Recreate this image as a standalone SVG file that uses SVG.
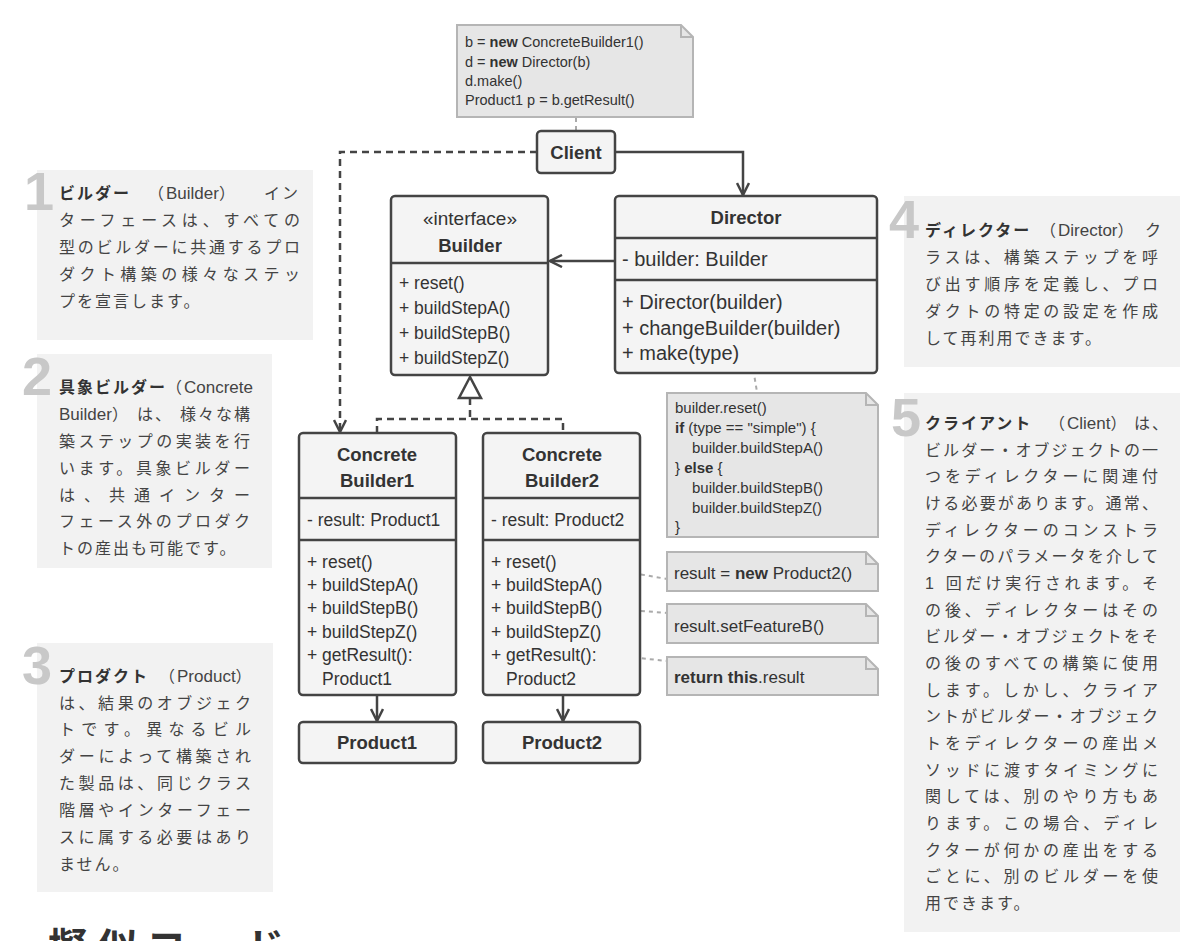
<svg xmlns="http://www.w3.org/2000/svg" width="1200" height="941" viewBox="0 0 1200 941">
<style>
.box{fill:#f4f4f4;stroke:#444;stroke-width:2.5}
.div{stroke:#444;stroke-width:2.5;fill:none}
.t{font-family:"Liberation Sans",Arial,sans-serif;fill:#333}
.b{font-weight:bold}
.m{font-size:17.5px}
.md{font-size:20px}
.h{font-size:18.5px;font-weight:bold;text-anchor:middle}
.note{fill:#e6e6e6;stroke:#b5b5b5;stroke-width:2}
.fold{fill:none;stroke:#b5b5b5;stroke-width:2}
.code{font-family:"Liberation Sans",Arial,sans-serif;fill:#333}
.bg{fill:#f2f2f2}
.jp{font-family:"Liberation Sans","Noto Sans CJK JP",sans-serif;font-size:16px;fill:#444;letter-spacing:2px}
.jb{font-weight:bold;fill:#333}
.lat{font-size:17px;letter-spacing:0}
.num{font-family:"Liberation Sans",Arial,sans-serif;font-size:54px;font-weight:bold;fill:#c8c8c8}
.ln{fill:none;stroke:#444;stroke-width:2.5}
.dash{stroke-dasharray:7 5}
.dot{fill:none;stroke:#aaa;stroke-width:2;stroke-dasharray:4 4}
.pin{fill:none;stroke:#aaa;stroke-width:2}
.head{font-family:"Noto Sans CJK JP",sans-serif;font-size:40px;font-weight:bold;fill:#333;letter-spacing:9px}
</style>
<defs>
<marker id="open" viewBox="0 0 14 14" refX="13" refY="7" markerWidth="14" markerHeight="14" markerUnits="userSpaceOnUse" orient="auto">
<path d="M1,1 L13,7 L1,13" fill="none" stroke="#444" stroke-width="2.5"/>
</marker>
</defs>

<g id="note1">
<rect class="bg" x="37" y="170" width="276" height="170"/>
<text class="num" x="24" y="210">1</text>
<text class="jp" y="199"><tspan class="jb" x="59">ビルダー</tspan><tspan x="148">（</tspan><tspan class="lat">Builder</tspan><tspan>）</tspan><tspan x="264">イン</tspan></text>
<text class="jp" x="59" y="226" textLength="243" lengthAdjust="spacing">ターフェースは、すべての</text>
<text class="jp" x="59" y="253" textLength="243" lengthAdjust="spacing">型のビルダーに共通するプロ</text>
<text class="jp" x="59" y="280" textLength="243" lengthAdjust="spacing">ダクト構築の様々なステッ</text>
<text class="jp" x="59" y="307">プを宣言します。</text>
</g>

<g id="note2">
<rect class="bg" x="37" y="354" width="235" height="214"/>
<text class="num" x="22" y="395">2</text>
<text class="jp" y="393"><tspan class="jb" x="59">具象ビルダー</tspan><tspan x="166">（</tspan><tspan class="lat">Concrete</tspan></text>
<text class="jp" y="420"><tspan class="lat" x="59">Builder</tspan><tspan>）</tspan><tspan x="137">は、</tspan><tspan x="180">様々な構</tspan></text>
<text class="jp" x="59" y="447" textLength="193" lengthAdjust="spacing">築ステップの実装を行</text>
<text class="jp" x="59" y="474" textLength="193" lengthAdjust="spacing">います。具象ビルダー</text>
<text class="jp" x="59" y="501" textLength="193" lengthAdjust="spacing">は、共通インター</text>
<text class="jp" x="59" y="527" textLength="193" lengthAdjust="spacing">フェース外のプロダク</text>
<text class="jp" x="59" y="554">トの産出も可能です。</text>
</g>

<g id="note3">
<rect class="bg" x="37" y="643" width="236" height="249"/>
<text class="num" x="22" y="684">3</text>
<text class="jp" y="682"><tspan class="jb" x="59">プロダクト</tspan><tspan x="159">（</tspan><tspan class="lat">Product</tspan><tspan>）</tspan></text>
<text class="jp" x="59" y="709" textLength="194" lengthAdjust="spacing">は、結果のオブジェク</text>
<text class="jp" x="59" y="735" textLength="194" lengthAdjust="spacing">トです。異なるビル</text>
<text class="jp" x="59" y="762" textLength="194" lengthAdjust="spacing">ダーによって構築され</text>
<text class="jp" x="59" y="789" textLength="194" lengthAdjust="spacing">た製品は、同じクラス</text>
<text class="jp" x="59" y="816" textLength="194" lengthAdjust="spacing">階層やインターフェー</text>
<text class="jp" x="59" y="843" textLength="194" lengthAdjust="spacing">スに属する必要はあり</text>
<text class="jp" x="59" y="870">ません。</text>
</g>

<g id="note4">
<rect class="bg" x="904" y="196" width="276" height="171"/>
<text class="num" x="889" y="238">4</text>
<text class="jp" y="236"><tspan class="jb" x="925">ディレクター</tspan><tspan x="1040">（</tspan><tspan class="lat">Director</tspan><tspan>）</tspan><tspan x="1145">ク</tspan></text>
<text class="jp" x="925" y="263" textLength="235" lengthAdjust="spacing">ラスは、構築ステップを呼</text>
<text class="jp" x="925" y="290" textLength="235" lengthAdjust="spacing">び出す順序を定義し、プロ</text>
<text class="jp" x="925" y="317" textLength="235" lengthAdjust="spacing">ダクトの特定の設定を作成</text>
<text class="jp" x="925" y="344">して再利用できます。</text>
</g>

<g id="note5">
<rect class="bg" x="904" y="393" width="276" height="539"/>
<text class="num" x="891" y="436">5</text>
<text class="jp" y="429"><tspan class="jb" x="925">クライアント</tspan><tspan x="1049">（</tspan><tspan class="lat">Client</tspan><tspan>）</tspan><tspan x="1134">は、</tspan></text>
<text class="jp" x="925" y="456" textLength="235" lengthAdjust="spacing">ビルダー・オブジェクトの一</text>
<text class="jp" x="925" y="482" textLength="235" lengthAdjust="spacing">つをディレクターに関連付</text>
<text class="jp" x="925" y="509" textLength="235" lengthAdjust="spacing">ける必要があります。通常、</text>
<text class="jp" x="925" y="536" textLength="235" lengthAdjust="spacing">ディレクターのコンストラ</text>
<text class="jp" x="925" y="562" textLength="235" lengthAdjust="spacing">クターのパラメータを介して</text>
<text class="jp" x="925" y="589" textLength="235" lengthAdjust="spacing">1 回だけ実行されます。そ</text>
<text class="jp" x="925" y="616" textLength="235" lengthAdjust="spacing">の後、ディレクターはその</text>
<text class="jp" x="925" y="642" textLength="235" lengthAdjust="spacing">ビルダー・オブジェクトをそ</text>
<text class="jp" x="925" y="669" textLength="235" lengthAdjust="spacing">の後のすべての構築に使用</text>
<text class="jp" x="925" y="696" textLength="235" lengthAdjust="spacing">します。しかし、クライア</text>
<text class="jp" x="925" y="722" textLength="235" lengthAdjust="spacing">ントがビルダー・オブジェク</text>
<text class="jp" x="925" y="749" textLength="235" lengthAdjust="spacing">トをディレクターの産出メ</text>
<text class="jp" x="925" y="776" textLength="235" lengthAdjust="spacing">ソッドに渡すタイミングに</text>
<text class="jp" x="925" y="802" textLength="235" lengthAdjust="spacing">関しては、別のやり方もあ</text>
<text class="jp" x="925" y="829" textLength="235" lengthAdjust="spacing">ります。この場合、ディレ</text>
<text class="jp" x="925" y="856" textLength="235" lengthAdjust="spacing">クターが何かの産出をする</text>
<text class="jp" x="925" y="882" textLength="235" lengthAdjust="spacing">ごとに、別のビルダーを使</text>
<text class="jp" x="925" y="909">用できます。</text>
</g>

<g id="heading">
<text class="head" x="48" y="962">擬似コード</text>
</g>

<g id="connectors">
<path class="ln" d="M615,152 H743 V195" marker-end="url(#open)"/>
<path class="ln" d="M615,261 H550" marker-end="url(#open)"/>
<path class="ln dash" d="M537,152 H340 V432" marker-end="url(#open)"/>
<path class="ln dash" d="M470,398 V419 M377,433 V419 H563 V433"/>
<polygon points="470,377 459,398 481,398" fill="#fff" stroke="#444" stroke-width="2.5"/>
<path class="ln" d="M377,696 V721" marker-end="url(#open)"/>
<path class="ln" d="M563,696 V721" marker-end="url(#open)"/>
<path class="dot" d="M576,118 V130"/>
<path class="dot" d="M752,362 L757,392"/>
<path class="dot" d="M570,562 L667,579"/>
<path class="dot" d="M617,609 L667,613"/>
<path class="dot" d="M610,655 L667,661"/>
<circle class="pin" cx="751" cy="357" r="4"/>
<circle class="pin" cx="566" cy="561" r="4"/>
<circle class="pin" cx="613" cy="609" r="4"/>
<circle class="pin" cx="606" cy="654" r="4"/>
</g>

<g id="clientNote">
<path class="note" d="M457,25 H681 L693,37 V117 H457 Z"/>
<path class="fold" d="M681,25 V37 H693"/>
<text class="code" font-size="14.5" x="465" y="47">b = <tspan class="b">new</tspan> ConcreteBuilder1()</text>
<text class="code" font-size="14.5" x="465" y="67">d = <tspan class="b">new</tspan> Director(b)</text>
<text class="code" font-size="14.5" x="465" y="86">d.make()</text>
<text class="code" font-size="14.5" x="465" y="105">Product1 p = b.getResult()</text>
</g>

<g id="client">
<rect class="box" x="537" y="131" width="78" height="42" rx="4"/>
<text class="t h" x="576" y="159">Client</text>
</g>

<g id="builder">
<rect class="box" x="391" y="196" width="157" height="179" rx="4"/>
<path class="div" d="M391,263 H548"/>
<text class="t" font-size="19" text-anchor="middle" x="470" y="225">«interface»</text>
<text class="t h" x="470" y="252">Builder</text>
<text class="t m" x="399" y="289">+ reset()</text>
<text class="t m" x="399" y="314">+ buildStepA()</text>
<text class="t m" x="399" y="339">+ buildStepB()</text>
<text class="t m" x="399" y="364">+ buildStepZ()</text>
</g>

<g id="director">
<rect class="box" x="615" y="196" width="262" height="177" rx="4"/>
<path class="div" d="M615,238 H877 M615,280 H877"/>
<text class="t h" x="746" y="224">Director</text>
<text class="t md" x="622" y="266">- builder: Builder</text>
<text class="t md" x="622" y="309">+ Director(builder)</text>
<text class="t md" x="622" y="335">+ changeBuilder(builder)</text>
<text class="t md" x="622" y="360">+ make(type)</text>
</g>

<g id="directorNote">
<path class="note" d="M667,393 H866 L878,405 V537 H667 Z"/>
<path class="fold" d="M866,393 V405 H878"/>
<text class="code" font-size="15" x="675" y="413">builder.reset()</text>
<text class="code" font-size="15" x="675" y="433"><tspan class="b">if</tspan> (type == "simple") {</text>
<text class="code" font-size="15" x="692" y="453">builder.buildStepA()</text>
<text class="code" font-size="15" x="675" y="473">} <tspan class="b">else</tspan> {</text>
<text class="code" font-size="15" x="692" y="493">builder.buildStepB()</text>
<text class="code" font-size="15" x="692" y="513">builder.buildStepZ()</text>
<text class="code" font-size="15" x="675" y="532">}</text>
</g>

<g id="cb1">
<rect class="box" x="299" y="433" width="157" height="262" rx="4"/>
<path class="div" d="M299,498 H456 M299,540 H456"/>
<text class="t h" x="377" y="461">Concrete</text>
<text class="t h" x="377" y="487">Builder1</text>
<text class="t m" x="307" y="526">- result: Product1</text>
<text class="t m" x="307" y="568">+ reset()</text>
<text class="t m" x="307" y="591">+ buildStepA()</text>
<text class="t m" x="307" y="614">+ buildStepB()</text>
<text class="t m" x="307" y="638">+ buildStepZ()</text>
<text class="t m" x="307" y="661">+ getResult():</text>
<text class="t m" x="322" y="685">Product1</text>
</g>

<g id="cb2">
<rect class="box" x="483" y="433" width="157" height="262" rx="4"/>
<path class="div" d="M483,498 H640 M483,540 H640"/>
<text class="t h" x="562" y="461">Concrete</text>
<text class="t h" x="562" y="487">Builder2</text>
<text class="t m" x="491" y="526">- result: Product2</text>
<text class="t m" x="491" y="568">+ reset()</text>
<text class="t m" x="491" y="591">+ buildStepA()</text>
<text class="t m" x="491" y="614">+ buildStepB()</text>
<text class="t m" x="491" y="638">+ buildStepZ()</text>
<text class="t m" x="491" y="661">+ getResult():</text>
<text class="t m" x="506" y="685">Product2</text>
</g>

<g id="resetNote">
<path class="note" d="M667,552 H866 L878,564 V591 H667 Z"/>
<path class="fold" d="M866,552 V564 H878"/>
<text class="code" font-size="17" x="674" y="579">result = <tspan class="b">new</tspan> Product2()</text>
</g>
<g id="stepBNote">
<path class="note" d="M667,604 H866 L878,616 V643 H667 Z"/>
<path class="fold" d="M866,604 V616 H878"/>
<text class="code" font-size="17" x="674" y="632">result.setFeatureB()</text>
</g>
<g id="resultNote">
<path class="note" d="M667,657 H866 L878,669 V695 H667 Z"/>
<path class="fold" d="M866,657 V669 H878"/>
<text class="code" font-size="17" x="674" y="683"><tspan class="b">return this</tspan>.result</text>
</g>

<g id="product1">
<rect class="box" x="299" y="722" width="157" height="41" rx="4"/>
<text class="t h" x="377" y="749">Product1</text>
</g>
<g id="product2">
<rect class="box" x="483" y="722" width="157" height="41" rx="4"/>
<text class="t h" x="562" y="749">Product2</text>
</g>
</svg>
